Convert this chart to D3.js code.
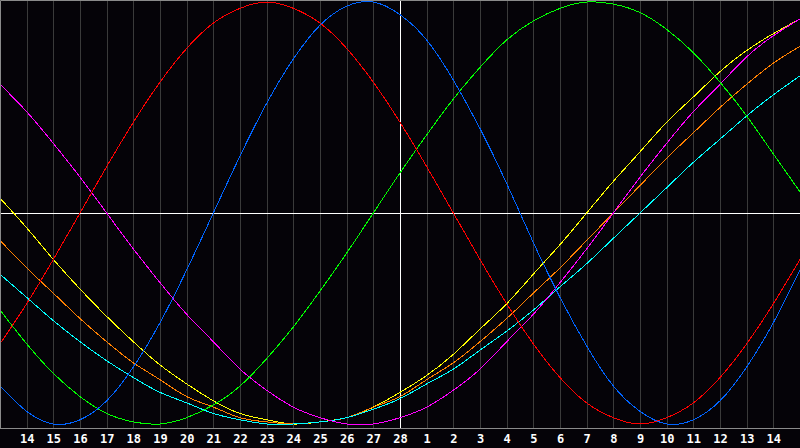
<!DOCTYPE html>
<html>
<head>
<meta charset="utf-8">
<script src="https://cdn.jsdelivr.net/npm/d3@7"></script>
<style>
  html, body { margin: 0; padding: 0; background: #050308; }
  svg { display: block; }
  .lbl text { fill: #fff; font-family: "DejaVu Sans Mono", monospace; font-weight: bold; font-size: 12px; }
</style>
</head>
<body>
<div id="chart"></div>
<script>
var w = 800,
  h = 448;
var plotH = 428;

// day labels under the gridlines (positions 1..29 of a 0..30 day window)
var dayLabels = ["14","15","16","17","18","19","20","21","22","23","24","25","26","27","28",
  "1","2","3","4","5","6","7","8","9","10","11","12","13","14"];

// rhythm values, one per day from the left edge (day 0 .. day 30)
var aesthetic = [0.07,-0.07,-0.22,-0.36,-0.49,-0.61,-0.72,-0.81,-0.89,-0.95,-0.98,-1.00,-0.99,-0.97,-0.92,-0.85,
  -0.77,-0.67,-0.55,-0.43,-0.29,-0.15,0.00,0.15,0.29,0.43,0.55,0.67,0.77,0.85,0.92];
var awareness = [-0.13,-0.26,-0.38,-0.50,-0.61,-0.71,-0.79,-0.87,-0.92,-0.97,-0.99,-1.00,-0.99,-0.97,-0.92,-0.87,
  -0.79,-0.71,-0.61,-0.50,-0.38,-0.26,-0.13,0.00,0.13,0.26,0.38,0.50,0.61,0.71,0.79];
var spiritual = [-0.29,-0.40,-0.51,-0.61,-0.70,-0.78,-0.85,-0.90,-0.95,-0.98,-1.00,-1.00,-0.99,-0.97,-0.93,-0.88,
  -0.81,-0.74,-0.65,-0.56,-0.46,-0.35,-0.24,-0.12,0.00,0.12,0.24,0.35,0.46,0.56,0.65];
var intuitive = [0.61,0.48,0.33,0.17,0.00,-0.17,-0.33,-0.48,-0.61,-0.74,-0.84,-0.92,-0.97,-1.00,-1.00,-0.97,
  -0.92,-0.84,-0.74,-0.61,-0.48,-0.33,-0.17,0.00,0.17,0.33,0.48,0.61,0.74,0.84,0.92];
var intellectual = [-0.46,-0.62,-0.76,-0.87,-0.95,-0.99,-1.00,-0.97,-0.91,-0.82,-0.69,-0.54,-0.37,-0.19,0.00,0.19,
  0.37,0.54,0.69,0.82,0.91,0.97,1.00,0.99,0.95,0.87,0.76,0.62,0.46,0.28,0.10];
var physical = [-0.82,-0.94,-1.00,-0.98,-0.89,-0.73,-0.52,-0.27,0.00,0.27,0.52,0.73,0.89,0.98,1.00,0.94,
  0.82,0.63,0.40,0.14,-0.14,-0.40,-0.63,-0.82,-0.94,-1.00,-0.98,-0.89,-0.73,-0.52,-0.27];
var emotional = [-0.62,-0.43,-0.22,0.00,0.22,0.43,0.62,0.78,0.90,0.97,1.00,0.97,0.90,0.78,0.62,0.43,
  0.22,0.00,-0.22,-0.43,-0.62,-0.78,-0.90,-0.97,-1.00,-0.97,-0.90,-0.78,-0.62,-0.43,-0.22];

var seriesList = [
  { vals: aesthetic, color: "#ffff00" },
  { vals: awareness, color: "#ff8000" },
  { vals: spiritual, color: "#00ffff" },
  { vals: intuitive, color: "#ff00ff" },
  { vals: intellectual, color: "#00ff00" },
  { vals: physical, color: "#0064ff" },
  { vals: emotional, color: "#ff0000" }
];

var x = d3.scaleLinear().domain([0, 30]).range([0, w]);
var y = d3.scaleLinear().domain([-1, 1]).range([424, 2]);

var svg = d3.select("#chart").append("svg").attr("width", w).attr("height", h);

svg.append("rect").attr("width", w).attr("height", h).attr("fill", "#050308");

// vertical day gridlines
svg.append("g")
  .selectAll("line")
  .data(dayLabels)
  .enter().append("line")
  .attr("x1", function (d, i) { return Math.round(x(i + 1)) + 0.5; })
  .attr("x2", function (d, i) { return Math.round(x(i + 1)) + 0.5; })
  .attr("y1", 0).attr("y2", plotH)
  .attr("stroke", "#3a3a3a").attr("stroke-width", 1);

// centre cross
svg.append("line").attr("x1", 0).attr("x2", w).attr("y1", 213.5).attr("y2", 213.5)
  .attr("stroke", "#fff").attr("stroke-width", 1);
svg.append("line").attr("x1", x(15) + 0.5).attr("x2", x(15) + 0.5).attr("y1", 0).attr("y2", plotH)
  .attr("stroke", "#fff").attr("stroke-width", 1);

// curves
var line = d3.line()
  .x(function (d, i) { return x(i); })
  .y(function (d) { return y(d); })
  .curve(d3.curveNatural);

svg.append("g").selectAll("path")
  .data(seriesList)
  .enter().append("path")
  .attr("d", function (s) { return line(s.vals); })
  .attr("fill", "none")
  .attr("stroke", function (s) { return s.color; })
  .attr("stroke-width", 1)
  .style("shape-rendering", "crispEdges");

// frame
svg.append("path")
  .attr("d", "M0.5," + (plotH + 0.5) + " V0.5 H" + w + " M0," + (plotH + 0.5) + " H" + w)
  .attr("fill", "none").attr("stroke", "#8a8a8a").attr("stroke-width", 1);

// day labels
svg.append("g").attr("class", "lbl")
  .selectAll("text")
  .data(dayLabels)
  .enter().append("text")
  .attr("x", function (d, i) { return x(i + 1) + 0.5; })
  .attr("y", 443)
  .attr("text-anchor", "middle")
  .text(function (d) { return d; });
</script>
</body>
</html>
